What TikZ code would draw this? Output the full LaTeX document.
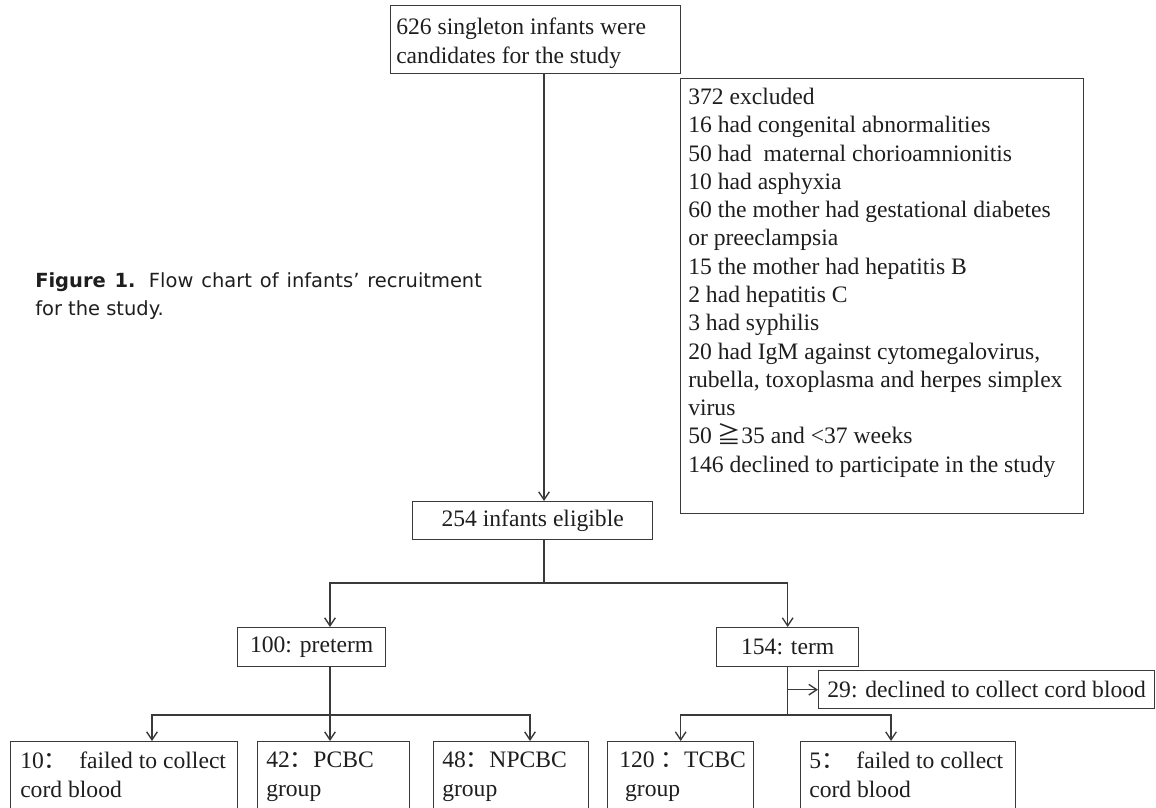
\documentclass[tikz,border=0pt]{standalone}
\usepackage{fontspec}
\setmainfont{Liberation Serif}
\newfontfamily\cjk{Noto Sans CJK SC}
\newfontfamily\capfont{DejaVu Sans}
\usetikzlibrary{arrows.meta}
\definecolor{lc}{HTML}{3A3A3A}
\definecolor{tc}{HTML}{1E1E1E}
\begin{document}
\begin{tikzpicture}[x=0.75pt,y=-0.75pt,
  box/.style={draw=lc, line width=1pt, inner sep=0pt, anchor=north west,
    font=\fontsize{17.7}{21.2}\selectfont, text=tc, align=center},
  txt/.style={font=\fontsize{17.7}{21.2}\selectfont, text=tc, align=left,
    inner sep=0pt, anchor=north west},
  arr/.style={draw=lc, line width=1pt, -{Straight Barb[length=6pt,width=8pt]}},
  conn/.style={draw=lc, line width=1pt}]
\useasboundingbox (0,0) rectangle (1156,807);
\clip (0,0) rectangle (1156,807);

% caption
\node[font=\capfont\fontsize{14.6}{21}\selectfont, align=left, anchor=north west,
  inner sep=0pt, text=tc] (cap) at (35,272)
  {\makebox[335pt][s]{\textbf{Figure 1.} Flow chart of infants’ recruitment}\\for the study.};

% top box
\node[box, minimum width=290*0.75pt, minimum height=68*0.75pt] (top) at (390,5) {};
\node[txt] (topt) at ([shift={(6,13)}]top.north west)
  {626 singleton infants were\\candidates for the study};

% exclusion box
\node[box, minimum width=403*0.75pt, minimum height=435*0.75pt] (excl) at (680,78) {};
\node[txt] (exclt) at ([shift={(8,10)}]excl.north west)
  {372 excluded\\
   16 had congenital abnormalities\\
   50 had\ \ maternal chorioamnionitis\\
   10 had asphyxia\\
   60 the mother had gestational diabetes\\
   or preeclampsia\\
   15 the mother had hepatitis B\\
   2 had hepatitis C\\
   3 had syphilis\\
   20 had IgM against cytomegalovirus,\\
   rubella, toxoplasma and herpes simplex\\
   virus\\
   50 {\cjk ≧}35 and <37 weeks\\
   146 declined to participate in the study};

% eligible
\node[box, minimum width=240*0.75pt, minimum height=38*0.75pt] (elig) at (412,501) {254 infants eligible};

% preterm / term
\node[box, minimum width=148*0.75pt, minimum height=39*0.75pt] (pre) at (237,627) {100: preterm};
\node[box, minimum width=142*0.75pt, minimum height=39*0.75pt] (term) at (716,627) {154: term};
\node[box, minimum width=336*0.75pt, minimum height=38*0.75pt] (decl) at (818,670) {29: declined to collect cord blood};

% bottom boxes
\node[box, minimum width=227*0.75pt, minimum height=90*0.75pt] (b1) at (10,741) {};
\node[box, minimum width=152*0.75pt, minimum height=90*0.75pt] (b2) at (257,741) {};
\node[box, minimum width=155*0.75pt, minimum height=90*0.75pt] (b3) at (433,741) {};
\node[box, minimum width=146*0.75pt, minimum height=90*0.75pt] (b4) at (607,741) {};
\node[box, minimum width=215*0.75pt, minimum height=90*0.75pt] (b5) at (800,741) {};
\node[txt] (b1t) at ([shift={(10,11)}]b1.north west) {10{\cjk ：}\ \ failed to collect\\cord blood};
\node[txt] (b2t) at ([shift={(9,11)}]b2.north west) {42{\cjk ：}PCBC\\group};
\node[txt] (b3t) at ([shift={(9,11)}]b3.north west) {48{\cjk ：}NPCBC\\group};
\node[txt] (b4t) at ([shift={(12,11)}]b4.north west) {120 {\cjk ：}TCBC\\\ group};
\node[txt] (b5t) at ([shift={(9,11)}]b5.north west) {5{\cjk ：}\ \ failed to collect\\cord blood};

% connectors
\coordinate (c1) at (544,583);
\coordinate (c2) at (330,715);
\coordinate (a1) at (152,715);
\coordinate (a3) at (530,715);
\coordinate (c3) at (787,715);
\coordinate (a5) at (891,715);

\draw[arr] (top.south -| c1) -- (elig.north -| c1);
\draw[conn] (elig.south -| c1) -- (c1);
\draw[arr] (c1) -| (pre.north -| c2);
\draw[arr] (c1) -| (term.north);

\draw[arr] (pre.south -| c2) -- (b2.north -| c2);
\draw[arr] (c2) -| (b1.north -| a1);
\draw[arr] (c2) -| (b3.north -| a3);

\draw[conn] (term.south) -- (term.south |- c3);
\draw[arr] (decl.west -| term.south) -- (decl.west);
\draw[arr] (c3) -| (b4.north);
\draw[arr] (c3) -| (b5.north -| a5);
\end{tikzpicture}
\end{document}
